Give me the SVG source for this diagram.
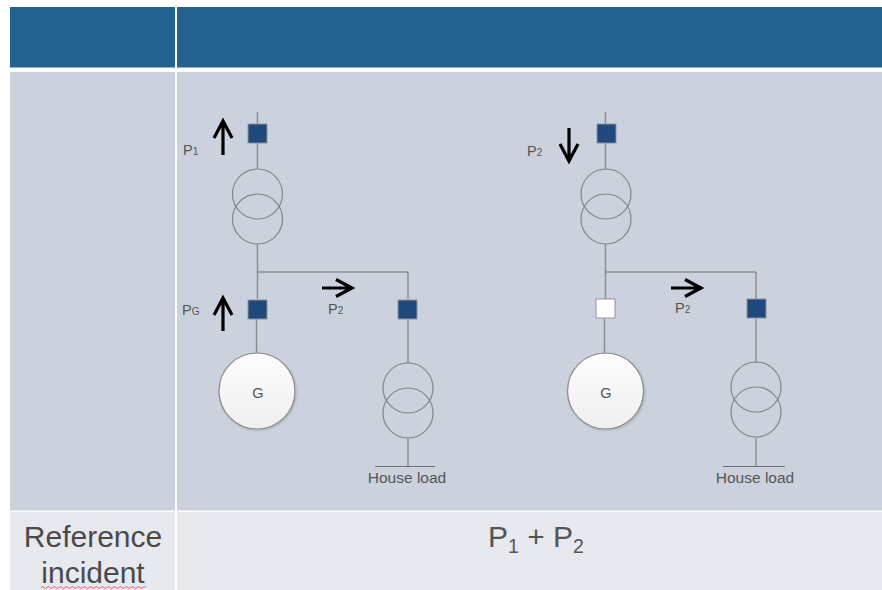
<svg xmlns="http://www.w3.org/2000/svg" width="882" height="590" viewBox="0 0 882 590">
<defs>
<filter id="soft" x="-20%" y="-20%" width="140%" height="140%"><feDropShadow dx="1" dy="1" stdDeviation="1" flood-color="#000" flood-opacity="0.18"/></filter>
<linearGradient id="gen" x1="0" y1="0" x2="0" y2="1"><stop offset="0" stop-color="#fdfdfd"/><stop offset="1" stop-color="#efefef"/></linearGradient>
</defs>
<style>
text{font-family:"Liberation Sans",Arial,sans-serif;fill:#555}
.w{stroke:#8a8a8a;stroke-width:1.4;fill:none}
.hw{stroke:#6f6f6f;stroke-width:1.2;fill:none}
.br{stroke:#8f9299;stroke-width:1;fill:#1f497d}
.open{fill:#fff}
.tr{stroke:#858585;stroke-width:1.2;fill:none}
.gen{fill:url(#gen);stroke:#8a8a8a;stroke-width:1.2;filter:url(#soft)}
.ar{stroke:#000;stroke-width:3.2;fill:none}
.lbl{font-size:14.500px}
.sub{font-size:10px}
.hl{font-size:15.500px;text-anchor:middle}
.g{font-size:14.500px;text-anchor:middle}
.big{font-size:30px;text-anchor:middle;fill:#4a4a4a}
.eq{font-size:30px;fill:#555}
.eqs{font-size:19.500px;fill:#555}
.sq{stroke:#f05a5a;stroke-width:1;fill:none}
</style>
<rect width="882" height="590" fill="#fff"/>
<g id="table">
<rect x="10" y="7" width="165" height="60.500" fill="#23628f"/>
<rect x="177" y="7" width="705" height="60.500" fill="#23628f"/>
<rect x="10" y="72" width="165" height="438.500" fill="#cbd2dd"/>
<rect x="177" y="72" width="705" height="438.500" fill="#cbd2dd"/>
<rect x="10" y="512" width="165" height="78" fill="#e7e9ee"/>
<rect x="177" y="512" width="705" height="78" fill="#e7e9ee"/>
</g>
<g id="connectors">
<path class="w" d="M257.500 112V124M257.500 143V169M257.500 244V299M408 272V299M256.500 319V353M408 319V363M408 438V466"/>
<path class="hw" d="M257 272H408M375 466.500H435"/>
<path class="w" d="M605.500 112V124M605.500 143V169M605.500 244V299M756 272V299M604.500 319V353M756 319V363M756 438V466"/>
<path class="hw" d="M605 272H756M723 466.500H785"/>
<path class="ar" d="M223 155V121M214 138L223 121L232 138"/>
<path class="ar" d="M223 331V298M214 315L223 298L232 315"/>
<path class="ar" d="M322 288H352M336 279.500L352 288L336 296.500"/>
<path class="ar" d="M569 128V161M560 144L569 161L578 144"/>
<path class="ar" d="M671 288H701M685 279.500L701 288L685 296.500"/>
</g>
<g id="breaker-p1"><rect class="br" x="248" y="124" width="19" height="19"/></g>
<g id="transformer-top-left"><circle class="tr" cx="257.500" cy="194" r="25"/><circle class="tr" cx="257.500" cy="219" r="25"/></g>
<g id="breaker-g-left"><rect class="br" x="248" y="300" width="19" height="19"/></g>
<g id="breaker-load-left"><rect class="br" x="398" y="300" width="19" height="19"/></g>
<g id="generator-left"><circle class="gen" cx="257" cy="391" r="38"/><text class="g" x="258" y="398">G</text></g>
<g id="transformer-load-left"><circle class="tr" cx="408" cy="388" r="25"/><circle class="tr" cx="408" cy="413" r="25"/></g>
<g id="breaker-p2"><rect class="br" x="597" y="124" width="19" height="19"/></g>
<g id="transformer-top-right"><circle class="tr" cx="606" cy="194" r="25"/><circle class="tr" cx="606" cy="219" r="25"/></g>
<g id="breaker-g-right"><rect class="br open" x="596" y="299" width="19" height="19"/></g>
<g id="breaker-load-right"><rect class="br" x="747" y="299" width="19" height="19"/></g>
<g id="generator-right"><circle class="gen" cx="605.500" cy="391" r="38"/><text class="g" x="606" y="398">G</text></g>
<g id="transformer-load-right"><circle class="tr" cx="756" cy="387" r="25"/><circle class="tr" cx="756" cy="412" r="25"/></g>
<g id="labels">
<text class="lbl" x="183" y="155">P<tspan class="sub">1</tspan></text>
<text class="lbl" x="182" y="315">P<tspan class="sub">G</tspan></text>
<text class="lbl" x="328" y="314">P<tspan class="sub">2</tspan></text>
<text class="lbl" x="527" y="156">P<tspan class="sub">2</tspan></text>
<text class="lbl" x="675" y="313">P<tspan class="sub">2</tspan></text>
<text class="hl" x="407" y="483">House load</text>
<text class="hl" x="755" y="483">House load</text>
</g>
<g id="row-labels">
<text class="big" x="93" y="547">Reference</text>
<text class="big" x="93" y="583">incident</text>
<path class="sq" d="M41 587.500q1.500-2 3 0t3 0t3 0t3 0t3 0t3 0t3 0t3 0t3 0t3 0t3 0t3 0t3 0t3 0t3 0t3 0t3 0t3 0t3 0t3 0t3 0t3 0t3 0t3 0t3 0t3 0t3 0t3 0t3 0t3 0t3 0t3 0t3 0t3 0t3 0"/>
<text class="eq" x="488" y="547">P<tspan class="eqs" dy="6">1</tspan><tspan dy="-6"> + P</tspan><tspan class="eqs" dy="6">2</tspan></text>
</g>
</svg>
